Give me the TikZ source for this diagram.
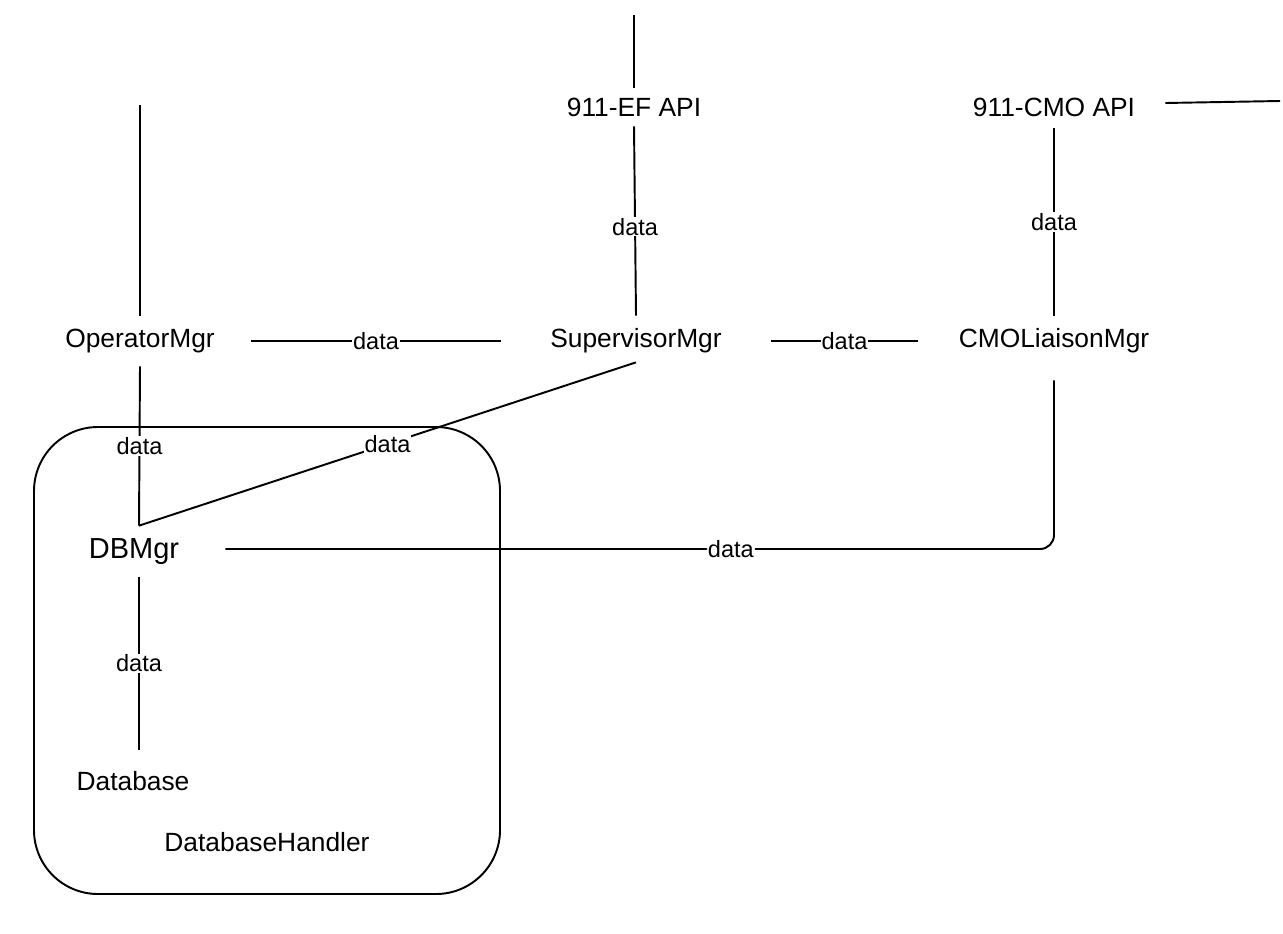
\documentclass[tikz,border=0pt]{standalone}
\usepackage{fontspec}
\setmainfont{Liberation Sans}
\begin{document}
\begin{tikzpicture}[x=0.02cm,y=-0.02cm,
  comp/.style={font=\fontsize{15}{18}\selectfont, inner sep=0pt, minimum height=1cm},
  lbl/.style={font=\fontsize{13.4}{16}\selectfont, fill=white, inner sep=0.6pt},
  conn/.style={line width=1.1pt}]
\useasboundingbox (0,0) rectangle (1283,933);
% container
\draw[conn, rounded corners=1.28cm] (34,427) rectangle (500,894);
% nodes
\node[comp, minimum width=4.44cm] (op) at (140,341) {OperatorMgr};
\node[comp, minimum width=5.4cm] (sup) at (636,341) {SupervisorMgr};
\node[comp, minimum width=5.44cm] (cmo) at (1054,341) {CMOLiaisonMgr};
\node[comp, minimum height=0.76cm] (ef) at (634,107) {911-EF API};
\node[comp, minimum width=4.44cm, minimum height=0.84cm] (cmoapi) at (1054,107) {911-CMO API};
\node[comp, font=\fontsize{16.5}{19}\selectfont, minimum width=3.44cm, minimum height=1.02cm] (db) at (139,551.5) {DBMgr\kern0.2cm};
\node[comp, minimum height=1.24cm] (dbase) at (139,781) {Database\kern0.24cm};
\node[comp] (handler) at (267,842) {DatabaseHandler};
% free ends
\coordinate (optop) at (140,105);
\coordinate (eftop) at (634,15);
\coordinate (cmoright) at (1280,101);
% connectors
\draw[conn] (optop) -- (op.north);
\draw[conn] (eftop) -- (ef.north);
\draw[conn] ([yshift=0.08cm]cmoapi.east) -- (cmoright);
\draw[conn] (ef.south) -- node[lbl,pos=0.53]{data} (sup.north);
\draw[conn] (cmoapi.south) -- node[lbl]{data} (cmo.north);
\draw[conn] (op.east) -- node[lbl]{data} (sup.west);
\draw[conn] (sup.east) -- node[lbl]{data} (cmo.west);
\draw[conn] (op.south) -- node[lbl]{data} (db.north);
\draw[conn] ([yshift=0.08cm]sup.south) -- node[lbl]{data} (db.north);
\draw[conn, rounded corners=0.28cm] ([yshift=0.05cm]db.east) -| node[lbl,pos=0.305]{data} ([yshift=-0.28cm]cmo.south);
\draw[conn] (db.south) -- node[lbl]{data} (dbase.north);
\end{tikzpicture}
\end{document}
